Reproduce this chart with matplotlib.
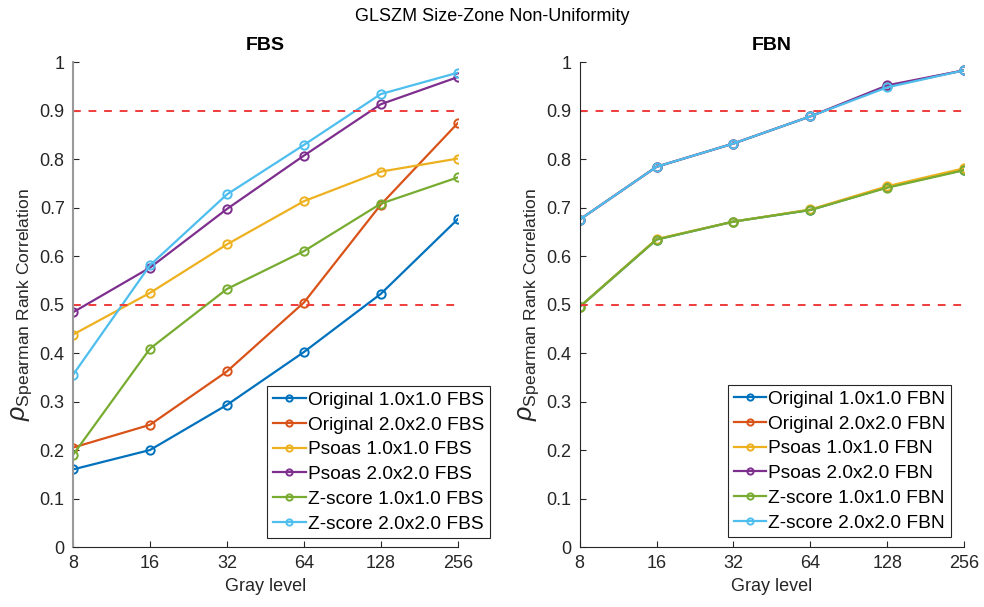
import matplotlib
matplotlib.use("Agg")
from matplotlib import pyplot as plt

# gray levels on the x axis
gray_levels = [8, 16, 32, 64, 128, 256]
series_names = ["Original 1.0x1.0", "Original 2.0x2.0", "Psoas 1.0x1.0",
                "Psoas 2.0x2.0", "Z-score 1.0x1.0", "Z-score 2.0x2.0"]

# FBS values
fbs_orig_1 = [0.160, 0.200, 0.293, 0.402, 0.522, 0.676]
fbs_orig_2 = [0.205, 0.252, 0.362, 0.504, 0.706, 0.874]
fbs_psoas_1 = [0.438, 0.524, 0.624, 0.713, 0.774, 0.801]
fbs_psoas_2 = [0.484, 0.576, 0.697, 0.807, 0.913, 0.969]
fbs_z_1 = [0.190, 0.409, 0.532, 0.610, 0.708, 0.762]
fbs_z_2 = [0.355, 0.581, 0.727, 0.829, 0.934, 0.978]

# FBN values (several series sit on top of each other)
fbn_orig_1 = [0.495, 0.634, 0.671, 0.695, 0.742, 0.778]
fbn_orig_2 = [0.675, 0.784, 0.832, 0.888, 0.950, 0.983]
fbn_psoas_1 = [0.495, 0.635, 0.671, 0.696, 0.744, 0.781]
fbn_psoas_2 = [0.675, 0.784, 0.832, 0.888, 0.952, 0.983]
fbn_z_1 = [0.495, 0.634, 0.671, 0.695, 0.741, 0.777]
fbn_z_2 = [0.675, 0.784, 0.832, 0.888, 0.948, 0.983]

thresholds = [0.5, 0.9]

colors = ["#0072BD", "#D95319", "#EDB120", "#7E2F8E", "#77AC30", "#4DBEEE"]

plt.rcParams["font.family"] = ["Liberation Sans", "DejaVu Sans"]
plt.rcParams["mathtext.fontset"] = "custom"
plt.rcParams["mathtext.rm"] = "Liberation Sans"
plt.rcParams["mathtext.it"] = "Liberation Sans:italic"

fig = plt.figure(figsize=(9.84, 6.07), dpi=100)
fig.suptitle("GLSZM Size-Zone Non-Uniformity", fontsize=13, y=0.987)

# name, data, axes position, legend anchor (right, bottom in axes coords)
panels = [
    ("FBS", [fbs_orig_1, fbs_orig_2, fbs_psoas_1, fbs_psoas_2, fbs_z_1, fbs_z_2],
     [0.0742, 0.0988, 0.391, 0.799], (1.083, 0.018)),
    ("FBN", [fbn_orig_1, fbn_orig_2, fbn_psoas_1, fbn_psoas_2, fbn_z_1, fbn_z_2],
     [0.589, 0.0988, 0.391, 0.799], (0.966, 0.020)),
]

axis_color = (0.15, 0.15, 0.15)

for i, (name, data, pos, anchor) in enumerate(panels):
    ax = fig.add_axes(pos)
    for vals, label, c in zip(data, series_names, colors):
        ax.plot(gray_levels, vals, "-o", color=c, lw=1.6, ms=6,
                mfc="none", mew=1.4, label=label + " " + name)
    for t in thresholds:
        ax.plot([gray_levels[0], gray_levels[-1]], [t, t], "--",
                color="#f03c3c", lw=1.4, dashes=(4, 4))
    ax.set_xscale("log", base=2)
    ax.set_xlim(8, 256)
    ax.set_ylim(0, 1)
    ax.set_xticks(gray_levels)
    ax.set_xticklabels([str(g) for g in gray_levels])
    ax.minorticks_off()
    ax.set_yticks([k / 10 for k in range(11)])
    ax.set_yticklabels(["0"] + [f"{k/10:.1f}" for k in range(1, 10)] + ["1"])
    ax.tick_params(direction="in", length=4, labelsize=13, colors=axis_color,
                   pad=6)
    for s in ["top", "right"]:
        ax.spines[s].set_visible(False)
    for s in ["left", "bottom"]:
        ax.spines[s].set_color(axis_color)
        ax.spines[s].set_linewidth(0.8)
    if i == 0:
        ax.spines["left"].set_color("#999999")
        ax.spines["left"].set_linewidth(1.5)
    ax.set_title(name, fontsize=14, fontweight="bold", pad=9)
    ax.set_xlabel("Gray level", fontsize=13, color=axis_color)
    ax.set_ylabel(r"$\rho_{\mathrm{Spearman\ Rank\ Correlation}}$",
                  fontsize=18, color=axis_color, labelpad=4)
    leg = ax.legend(loc="lower right", bbox_to_anchor=anchor, fontsize=13.8,
                    frameon=True, fancybox=False, framealpha=1,
                    handlelength=1.7, handletextpad=0.1, borderpad=0.3,
                    labelspacing=0.38, markerscale=0.75, borderaxespad=0)
    leg.get_frame().set_edgecolor(axis_color)
    leg.get_frame().set_linewidth(0.8)

fig.savefig("out.png", dpi=100)
